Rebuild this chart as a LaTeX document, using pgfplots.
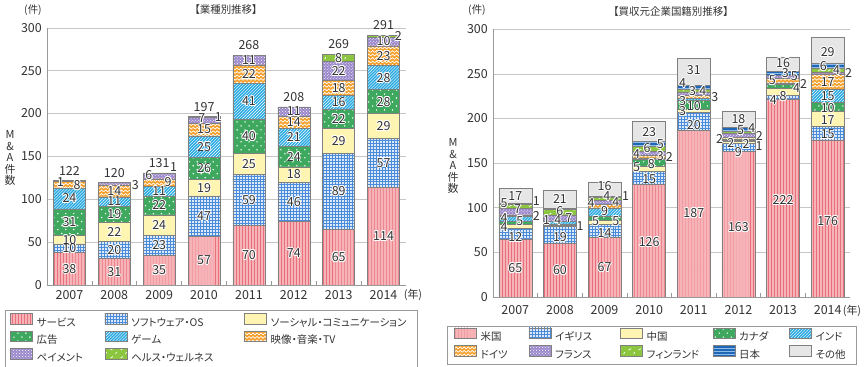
\documentclass[border=0pt]{standalone}
\usepackage{fontspec}
\setmainfont{Noto Sans CJK JP}[RawFeature=+palt]
\usepackage{pgfplots}
\pgfplotsset{compat=1.18}
\usepackage{pgfplotstable}
\usetikzlibrary{patterns}

\pgfdeclarepatternformonly{sdots}{\pgfpoint{-1pt}{-1pt}}{\pgfpoint{9pt}{9pt}}{\pgfpoint{8pt}{8pt}}{%
  \pgfpathcircle{\pgfpoint{2pt}{2pt}}{0.8pt}%
  \pgfpathcircle{\pgfpoint{6pt}{6pt}}{0.8pt}%
  \pgfusepath{fill}}
\pgfdeclarepatternformonly{zigzag}{\pgfpoint{-0.5pt}{-0.5pt}}{\pgfpoint{4.5pt}{4pt}}{\pgfpoint{4pt}{3.5pt}}{%
  \pgfsetlinewidth{0.7pt}%
  \pgfpathmoveto{\pgfpoint{0pt}{0.8pt}}%
  \pgfpathlineto{\pgfpoint{2pt}{2.6pt}}%
  \pgfpathlineto{\pgfpoint{4pt}{0.8pt}}%
  \pgfusepath{stroke}}
\pgfdeclarepatternformonly{sdash}{\pgfpoint{-1pt}{-1pt}}{\pgfpoint{11pt}{9pt}}{\pgfpoint{10pt}{8pt}}{%
  \pgfsetlinewidth{0.7pt}%
  \pgfpathmoveto{\pgfpoint{1pt}{1pt}}\pgfpathlineto{\pgfpoint{3.5pt}{2.5pt}}%
  \pgfpathmoveto{\pgfpoint{6pt}{5pt}}\pgfpathlineto{\pgfpoint{7pt}{7pt}}%
  \pgfusepath{stroke}}

\definecolor{pinkF}{HTML}{F6B3B8}
\definecolor{pinkL}{HTML}{E8707A}
\definecolor{blueF}{HTML}{DCE9F8}
\definecolor{blueL}{HTML}{4A8BDA}
\definecolor{yelF}{HTML}{FFF5B3}
\definecolor{grnF}{HTML}{3DA85E}
\definecolor{cyanF}{HTML}{2BAAE2}
\definecolor{orgF}{HTML}{F5A02A}
\definecolor{purF}{HTML}{9A88CB}
\definecolor{lgrF}{HTML}{8CC63E}
\definecolor{jpF}{HTML}{1F66B5}
\definecolor{jpL}{HTML}{8DBBEA}
\definecolor{othF}{HTML}{E6E6E6}
\definecolor{edge}{HTML}{808080}
\definecolor{txt}{HTML}{333333}

\newcommand\tickfont{\fontsize{12.5}{14}\selectfont}
\newcommand\lblfont{\fontsize{12.5}{14}\selectfont}
\newcommand\legfont{\fontsize{10.5}{12}\selectfont}

\pgfplotsset{
  sSvc/.style={draw=edge, line width=0.5pt, fill=pinkF, postaction={pattern=vertical lines, pattern color=pinkL}},
  sSw/.style={draw=edge, line width=0.5pt, fill=blueF, postaction={pattern=grid, pattern color=blueL}},
  sSoc/.style={draw=edge, line width=0.5pt, fill=yelF},
  sAd/.style={draw=edge, line width=0.5pt, fill=grnF, postaction={pattern=sdots, pattern color=white}},
  sGame/.style={draw=edge, line width=0.5pt, fill=cyanF, postaction={pattern=north east lines, pattern color=white}},
  sAv/.style={draw=edge, line width=0.5pt, fill=orgF, postaction={pattern=zigzag, pattern color=white}},
  sPay/.style={draw=edge, line width=0.5pt, fill=purF, postaction={pattern=crosshatch dots, pattern color=white}},
  sHl/.style={draw=edge, line width=0.5pt, fill=lgrF, postaction={pattern=sdash, pattern color=white}},
  sJp/.style={draw=edge, line width=0.5pt, fill=jpF, postaction={pattern=horizontal lines, pattern color=jpL}},
  sOth/.style={draw=edge, line width=0.5pt, fill=othF},
  barax/.style={
    scale only axis, anchor=south west,
    xmin=-0.5, xmax=7.5, ymin=0, ymax=300,
    ybar stacked,
    legend image code/.code={\draw[##1] (0bp,-1.2bp) rectangle (22bp,9.6bp);},
    axis x line*=bottom, axis y line*=left,
    axis line style={draw=gray!80, line width=0.6pt},
    ymajorgrids, grid style={draw=gray!45, line width=0.7pt},
    ytick={0,50,...,300},
    xtick={0,...,7},
    xticklabels={2007,2008,2009,2010,2011,2012,2013,2014},
    minor x tick num=1,
    major tick style={draw=none},
    minor tick style={draw=gray!80, line width=0.6pt},
    minor tick length=4bp, tick align=inside,
    /pgf/number format/assume math mode=true,
    yticklabel style={font=\tickfont, text=txt, anchor=east, inner sep=0pt, text height=8.6bp, text depth=0pt, xshift=-5bp},
    xticklabel style={font=\tickfont, text=txt, anchor=north, inner sep=0pt, text height=8.6bp, text depth=0pt},
    legend cell align=left,
  },
  lblax/.style={
    scale only axis, anchor=south west,
    xmin=-0.5, xmax=7.5, ymin=0, ymax=300, hide axis, clip=false,
  },
  lblplot/.style={only marks, mark=text, text mark={},
    nodes near coords, point meta=explicit symbolic,
    every node near coord/.append style={anchor=center, inner sep=0pt, font=\lblfont, text=txt}},
  haloplot/.style 2 args={only marks, mark=text, text mark={},
    nodes near coords, point meta=explicit symbolic,
    every node near coord/.append style={anchor=center, inner sep=0pt, font=\lblfont, text=white, xshift=#1, yshift=#2}},
}

\newcommand\halolabels[1]{%
  \addplot[haloplot={0.9bp}{0bp}] table[x=x,y=y,meta=l]{#1};
  \addplot[haloplot={-0.9bp}{0bp}] table[x=x,y=y,meta=l]{#1};
  \addplot[haloplot={0bp}{0.9bp}] table[x=x,y=y,meta=l]{#1};
  \addplot[haloplot={0bp}{-0.9bp}] table[x=x,y=y,meta=l]{#1};
  \addplot[haloplot={0.65bp}{0.65bp}] table[x=x,y=y,meta=l]{#1};
  \addplot[haloplot={-0.65bp}{0.65bp}] table[x=x,y=y,meta=l]{#1};
  \addplot[haloplot={0.65bp}{-0.65bp}] table[x=x,y=y,meta=l]{#1};
  \addplot[haloplot={-0.65bp}{-0.65bp}] table[x=x,y=y,meta=l]{#1};
}

\pgfplotstableread{
x svc sw soc ad game av pay hl
0 38 10 10 31 24 8 1 0
1 31 20 22 19 11 14 3 0
2 35 23 24 22 11 9 6 1
3 57 47 19 26 25 15 7 1
4 70 59 25 40 41 22 11 0
5 74 46 18 24 21 14 11 0
6 65 89 29 22 16 18 22 8
7 114 57 29 28 28 23 10 2
}\tblL

\pgfplotstableread{
x us uk cn ca ind de fr fi jp ot
0 65 12 4 4 5 2 7 5 1 17
1 60 19 1 1 4 0 7 6 1 21
2 67 14 5 5 9 4 4 4 1 16
3 126 15 5 8 2 3 4 6 5 23
4 187 20 3 10 3 3 4 3 4 31
5 163 9 2 2 1 2 5 2 4 18
6 222 4 8 4 2 5 3 0 5 16
7 176 15 17 10 15 17 2 4 6 29
}\tblR

\pgfplotstableread{
x y l
0 19 38
0 43 10
0 53 10
0 73.5 31
0 101 24
0.17 116.7 8
-0.2 120.6 1
1 15.5 31
1 41 20
1 62 22
1 82.5 19
1 97.5 11
1 110 14
1.47 116.7 3
2 17.5 35
2 46.5 23
2 70 24
2 93 22
2 109.5 11
2.2 120.6 9
1.77 128 6
2.32 138 1
3 28.5 57
3 80.5 47
3 113.5 19
3 136 26
3 161.5 25
3 181.5 15
2.95 194.6 7
3.32 196.5 1
4 35 70
4 99.5 59
4 141.5 25
4 174 40
4 214.5 41
4 246 22
4 262.5 11
5 37 74
5 97 46
5 129 18
5 150 24
5 172.5 21
5 190 14
5 202.5 11
6 32.5 65
6 109.5 89
6 168.5 29
6 194 22
6 213 16
6 230 18
6 250 22
6 265 8
7 57 114
7 142.5 57
7 185.5 29
7 214 28
7 242 28
7 267.5 23
7 284.5 10
7.33 290.7 2
}\labL

\pgfplotstableread{
x y l
0 133.4 122
1 131 120
2 142 131
3 208 197
4 280 268
5 219.8 208
6 281 269
7 303 291
}\totL

\pgfplotstableread{
x y l
0 32.5 65
0 67 12
-0.25 78 4
0.1 85 5
-0.25 89 4
0.47 91 2
0.05 98 7
-0.25 105 5
0.47 107 1
0 113 17
1 30 60
1 67 19
1.45 79 1
0.7 86.5 1
0.95 86 4
1.2 89 7
1 96.6 6
1 110 21
2 33 67
2 72 14
1.8 85 5
2.25 85 5
2 96.6 9
1.7 105 4
2.25 106.6 4
2.05 113 4
2.47 113 1
2 124.7 16
3 62 126
3 132.6 15
2.72 145 5
3.05 149.4 8
3.45 157 2
3.25 158.4 3
2.72 160.6 4
2.95 166.4 6
3.25 171.5 5
3 185 23
4 94 187
4 193 20
3.75 208 3
4 213.5 10
3.75 220 3
3.97 230.7 3
4.2 230.7 4
4.47 223.6 3
3.75 239.7 4
4 254 31
5 78 163
5 162 9
4.58 177.5 2
4.83 173 2
5.17 171.5 2
5.46 169 1
5.05 186.5 5
5.3 189 4
5.47 181 2
5 199 18
6 109 222
5.78 221 4
6 224.7 8
6.3 234.5 4
6.46 239 2
5.76 242.7 5
6.05 251 3
6.25 248 5
6 262.6 16
7 85.4 176
7 182 15
7 198.5 17
7 212 10
7 224.7 15
7 240.8 17
7.2 254 4
7.47 251 2
6.9 258.4 6
7 274.5 29
}\labR

\begin{document}
\begin{tikzpicture}
\useasboundingbox (0bp,0bp) rectangle (866bp,367bp);

% ---------- left chart ----------
\begin{axis}[barax, at={(47bp,82bp)}, width=359bp, height=257bp, bar width=32bp,
  xticklabel style={yshift=-5.5bp},
  legend columns=3,
  legend style={at={(-0.117,-0.097)}, anchor=north west, draw=gray!80, line width=0.5pt,
    font=\legfont, text=txt, inner xsep=5bp, inner ysep=3bp, row sep=0bp, column sep=0bp,
    nodes={inner xsep=0bp, inner ysep=2.5bp, text height=8.5bp, text depth=1.8bp},
    /tikz/every odd column/.append style={column sep=4bp},
    /tikz/column 2/.style={text width=68bp},
    /tikz/column 4/.style={text width=113bp},
    /tikz/column 6/.style={text width=142bp}},
]
\addplot[sSvc] table[x=x,y=svc]{\tblL};
\addplot[sSw] table[x=x,y=sw]{\tblL};
\addplot[sSoc] table[x=x,y=soc]{\tblL};
\addplot[sAd] table[x=x,y=ad]{\tblL};
\addplot[sGame] table[x=x,y=game]{\tblL};
\addplot[sAv] table[x=x,y=av]{\tblL};
\addplot[sPay] table[x=x,y=pay]{\tblL};
\addplot[sHl] table[x=x,y=hl]{\tblL};
\legend{サービス,ソフトウェア・OS,ソーシャル・コミュニケーション,広告,ゲーム,映像・音楽・TV,ペイメント,ヘルス・ウェルネス}
\end{axis}
\begin{axis}[lblax, at={(47bp,82bp)}, width=359bp, height=257bp]
\halolabels{\labL}
\addplot[lblplot] table[x=x,y=y,meta=l]{\labL};
\addplot[lblplot] table[x=x,y=y,meta=l]{\totL};
\end{axis}

% ---------- right chart ----------
\begin{axis}[barax, at={(493bp,70bp)}, width=357bp, height=267.7bp, bar width=33bp,
  xticklabel style={yshift=-9bp},
  legend columns=5,
  legend style={at={(-0.129,-0.108)}, anchor=north west, draw=gray!80, line width=0.5pt,
    font=\legfont, text=txt, inner xsep=7bp, inner ysep=1.5bp, row sep=0bp, column sep=0bp,
    nodes={inner xsep=0bp, inner ysep=2.5bp, text height=8.5bp, text depth=2bp},
    /tikz/every odd column/.append style={column sep=4bp},
    /tikz/column 2/.style={text width=48bp},
    /tikz/column 4/.style={text width=65bp},
    /tikz/column 6/.style={text width=66bp},
    /tikz/column 8/.style={text width=50bp},
    /tikz/column 10/.style={text width=34bp}},
]
\addplot[sSvc] table[x=x,y=us]{\tblR};
\addplot[sSw] table[x=x,y=uk]{\tblR};
\addplot[sSoc] table[x=x,y=cn]{\tblR};
\addplot[sAd] table[x=x,y=ca]{\tblR};
\addplot[sGame] table[x=x,y=ind]{\tblR};
\addplot[sAv] table[x=x,y=de]{\tblR};
\addplot[sPay] table[x=x,y=fr]{\tblR};
\addplot[sHl] table[x=x,y=fi]{\tblR};
\addplot[sJp] table[x=x,y=jp]{\tblR};
\addplot[sOth] table[x=x,y=ot]{\tblR};
\legend{米国,イギリス,中国,カナダ,インド,ドイツ,フランス,フィンランド,日本,その他}
\end{axis}
\begin{axis}[lblax, at={(493bp,70bp)}, width=357bp, height=267.7bp]
\halolabels{\labR}
\addplot[lblplot] table[x=x,y=y,meta=l]{\labR};
\end{axis}

% ---------- texts ----------
\node[font=\fontsize{10.5}{12}\selectfont, text=txt] at (226bp,357bp) {【業種別推移】};
\node[font=\fontsize{10.5}{12}\selectfont, text=txt] at (671bp,355bp) {【買収元企業国籍別推移】};
\node[font=\fontsize{10.5}{12}\selectfont, text=txt] at (33bp,357bp) {(件)};
\node[font=\fontsize{10.5}{12}\selectfont, text=txt] at (477bp,357bp) {(件)};
\node[font=\fontsize{11}{12}\selectfont, text=txt] at (413bp,72bp) {(年)};
\node[font=\fontsize{11}{12}\selectfont, text=txt] at (852bp,56bp) {(年)};
\node[font=\fontsize{11}{11.5}\selectfont, text=txt, align=center, inner sep=0pt] at (10bp,209bp) {M\\\&\\A\\件\\数};
\node[font=\fontsize{11}{11.5}\selectfont, text=txt, align=center, inner sep=0pt] at (453bp,201bp) {M\\\&\\A\\件\\数};
\end{tikzpicture}
\end{document}
